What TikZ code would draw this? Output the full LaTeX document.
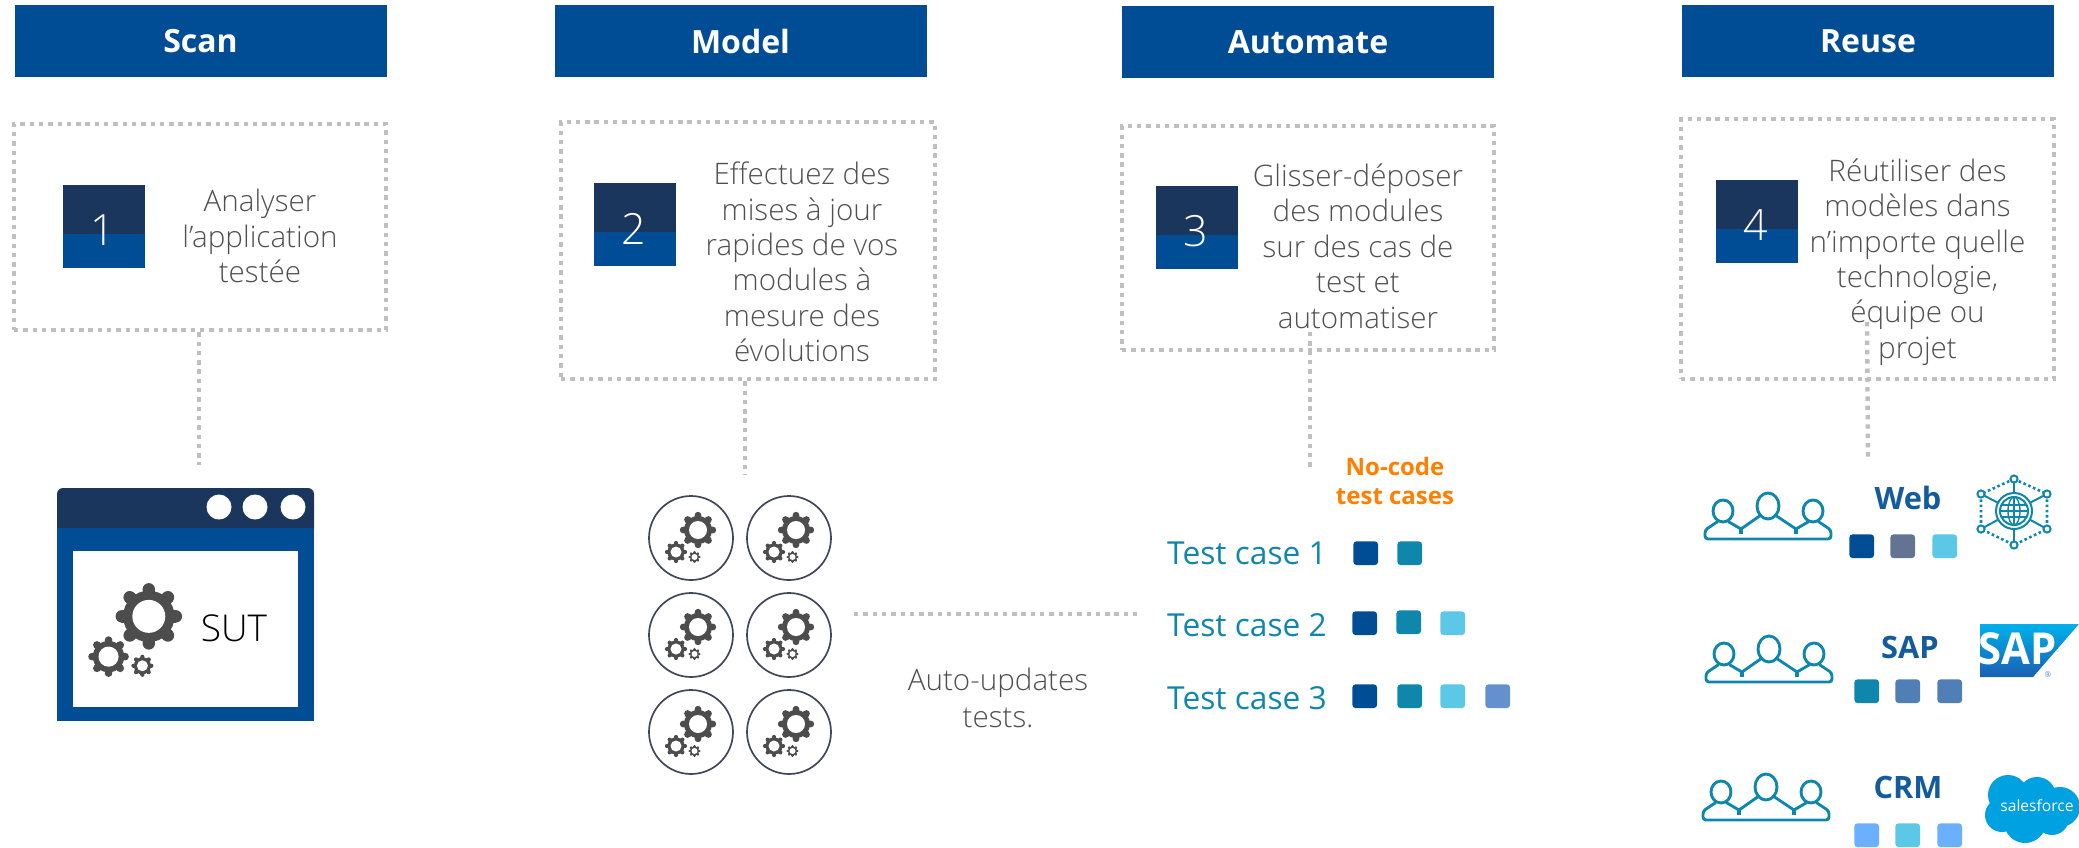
\documentclass[tikz,border=0pt]{standalone}
\usepackage{fontspec}
\setmainfont{Open Sans}
\newfontfamily\lightfont{Open Sans Light}
\definecolor{hblue}{HTML}{004D96}
\definecolor{hnavy}{HTML}{1B365D}
\definecolor{dotgrey}{HTML}{BFBFBF}
\definecolor{txtgrey}{HTML}{505050}
\definecolor{gearcol}{HTML}{4D4D4D}
\definecolor{ringcol}{HTML}{404758}
\definecolor{teal1}{HTML}{0F87AC}
\definecolor{sky}{HTML}{5AC8E6}
\definecolor{per}{HTML}{6490CD}
\definecolor{slate}{HTML}{637392}
\definecolor{steel}{HTML}{4F7FB5}
\definecolor{pale}{HTML}{6AB0FF}
\definecolor{orng}{HTML}{FF7F00}
\definecolor{sfblue}{HTML}{00A1E0}
\definecolor{saptop}{HTML}{00B1EB}
\definecolor{sapbot}{HTML}{1A5FB4}
\newcommand{\gearset}[3]{%
  \pic[scale={18*#3}] at ({#1+7*#3},{#2-8*#3}) {onegear};
  \pic[scale={11*#3}] at ({#1-15*#3},{#2+14*#3}) {onegear};
  \pic[scale={6*#3}] at ({#1+3.5*#3},{#2+19*#3}) {onegear};
}
\tikzset{
 x=0.5pt,y=-0.5pt,
 hdr/.style={fill=hblue,text=white,font=\fontsize{16}{18}\selectfont\bfseries,minimum width=186pt,minimum height=36pt,inner sep=0pt},
 dots/.style={draw=dotgrey,line width=2.2pt,dash pattern=on 2.2pt off 2.45pt},
 dotbox/.style={dots,inner sep=0pt},
 body/.style={text=txtgrey,align=center,inner sep=0pt,font=\fontsize{14.8}{17.7}\selectfont\lightfont},
 numtxt/.style={text=white,inner sep=0pt,font=\fontsize{21.5}{23}\selectfont\lightfont},
 tc/.style={text=teal1,inner sep=0pt,font=\fontsize{15.85}{18}\selectfont},
 plat/.style={text=hblue!92!white,inner sep=0pt,font=\fontsize{15.4}{18}\selectfont\bfseries},
 sq/.style={rounded corners=1.5pt,minimum width=12.3pt,minimum height=11.8pt,inner sep=0pt,anchor=north west},
 ring/.style={circle,draw=ringcol,line width=0.85pt,minimum size=42pt,inner sep=0pt},
 pics/onegear/.style={code={
   \foreach \a in {0,45,...,315}{
     \fill[gearcol,rotate=\a] (-0.19,-0.6) rectangle (0.19,-0.84);
     \fill[gearcol,rotate=\a] (0,-0.82) circle (0.19);
   }
   \fill[gearcol] (0,0) circle (0.78);
   \fill[white] (0,0) circle (0.5);
 }},
 pics/people/.style={code={
   \begin{scope}[teal1,line width=1.45pt,line join=round,line cap=round]
   \draw (-45,-6) ellipse [x radius=10,y radius=11];
   \draw (0,-11) ellipse [x radius=11,y radius=13];
   \draw (45,-6) ellipse [x radius=10,y radius=11];
   \draw[rounded corners=1.5pt] (-51,5) -- (-63,13) -- (-63,22) -- (63,22) -- (63,13) -- (51,5);
   \draw (-39,5) -- (-27,12) -- (-7,-2);
   \draw (7,-2) -- (28,12) -- (40,5);
   \draw[line cap=butt,line width=2pt] (-27,12) -- (-27,17);
   \draw[line cap=butt,line width=2pt] (28,12) -- (28,17);
   \end{scope}
 }},
}
\begin{document}
\begin{tikzpicture}
\useasboundingbox (0,0) rectangle (2079,847);
\clip (0,0) rectangle (2079,847);
% headers
\node[hdr] (h1) at (200.5,41) {Scan};
\node[hdr] (h2) at (740.5,41) {Model};
\node[hdr] (h3) at (1308,42) {Automate};
\node[hdr] (h4) at (1868,41) {Reuse};
% dotted boxes
\node[dotbox,minimum width=186pt,minimum height=103pt] (b1) at (200,227) {};
\node[dotbox,minimum width=187pt,minimum height=128.5pt] (b2) at (748,250.5) {};
\node[dotbox,minimum width=186pt,minimum height=112pt] (b3) at (1308,238) {};
\node[dotbox,minimum width=186.5pt,minimum height=130pt] (b4) at (1867.5,249) {};
% connectors
\coordinate (c1) at (199,465);
\coordinate (c2) at (745,475);
\coordinate (c3a) at (1310,332);
\coordinate (c3) at (1310,467);
\coordinate (c4a) at (1867,322);
\coordinate (c4) at (1868,457);
\draw[dots] (c1 |- b1.south) -- (c1);
\draw[dots] (c2 |- b2.south) -- (c2);
\draw[dots] (c3a) -- (c3);
\draw[dots] (c4a) -- (c4);
\coordinate (hs) at (854,614);
\coordinate (he) at (1140,614);
\draw[dots] (hs) -- (he);
% number squares
\foreach \n/\x/\y/\d in {1/63/185/1,2/594/183/2,3/1156/186/3,4/1716/180/4}{
  \fill[hnavy] (\x,\y) rectangle ++(82,50);
  \fill[hblue] (\x,\y+49) rectangle ++(82,34);
  \node[numtxt] (n\n) at (\x+40,\y+45.5) {\d};
}
% body texts
\node[body] (t1) at (260,236) {Analyser\\l’application\\testée};
\node[body] (t2) at (802,262) {Effectuez des\\mises à jour\\rapides de vos\\modules à\\mesure des\\évolutions};
\node[body] (t3) at (1358,246) {Glisser-déposer\\des modules\\sur des cas de\\test et\\automatiser};
\node[body] (t4) at (1917.5,262) {Réutiliser des\\modèles dans\\n’importe quelle\\technologie,\\équipe ou\\projet};
% SUT window
\fill[hnavy,rounded corners=3pt] (57,488) rectangle (314,535);
\fill[hblue] (57,528) rectangle (314,721);
\fill[white] (73,551) rectangle (298,707);
\foreach \x in {219,255,293} \fill[white] (\x,507) circle (12.5);
\gearset{136}{631}{1.83}
\node[inner sep=0pt,text=black,font=\fontsize{18.5}{20}\selectfont\lightfont] (sut) at (234,628) {SUT};
% gear circles
\foreach \n/\x/\y in {11/691/538,12/789/538,21/691/635,22/789/635,31/691/732,32/789/732}{
  \node[ring] (g\n) at (\x,\y) {};
  \gearset{\x}{\y}{1}
}
\node[body,font=\fontsize{14.8}{18.5}\selectfont\lightfont] (au) at (998,698) {Auto-updates\\tests.};
% test cases
\node[text=orng,inner sep=0pt,align=center,font=\fontsize{12}{14.5}\selectfont\bfseries] (nc) at (1395,481) {No-code\\test cases};
\node[tc] (tc1) at (1247,553) {Test case 1};
\node[tc] (tc2) at (1247,625) {Test case 2};
\node[tc] (tc3) at (1247,698) {Test case 3};
\node[sq,fill=hblue] (s11) at (1353,541) {};
\node[sq,fill=teal1] (s12) at (1397,541) {};
\node[sq,fill=hblue] (s21) at (1352,611) {};
\node[sq,fill=teal1] (s22) at (1396,610) {};
\node[sq,fill=sky] (s23) at (1440,611) {};
\node[sq,fill=hblue] (s31) at (1352,684) {};
\node[sq,fill=teal1] (s32) at (1397,684) {};
\node[sq,fill=sky] (s33) at (1440,684) {};
\node[sq,fill=per] (s34) at (1485,684) {};
% reuse column
\pic at (1768,517) {people};
\pic at (1769,660) {people};
\pic at (1766,798) {people};
\node[plat] (web) at (1908,498) {Web};
\node[plat] (sap) at (1910,647) {SAP};
\node[plat] (crm) at (1908,787) {CRM};
\node[sq,fill=hblue] (w1) at (1849,534) {};
\node[sq,fill=slate] (w2) at (1890,534) {};
\node[sq,fill=sky] (w3) at (1932,534) {};
\node[sq,fill=teal1] (p1) at (1854,679) {};
\node[sq,fill=steel] (p2) at (1895,679) {};
\node[sq,fill=steel] (p3) at (1937,679) {};
\node[sq,fill=pale] (m1) at (1854,823) {};
\node[sq,fill=sky] (m2) at (1895,823) {};
\node[sq,fill=pale] (m3) at (1937,823) {};
% network globe
\begin{scope}[shift={(2014,511)},teal1]
  \draw[line width=1.3pt,dash pattern=on 1.3pt off 1.3pt] (0,-32) -- (33,-17) -- (33,18) -- (0,34) -- (-33,18) -- (-33,-17) -- cycle;
  \foreach \a/\b in {0/-32,33/-17,33/18,0/34,-33/18,-33/-17}{
    \draw[line width=1pt] (0,0) -- (\a,\b);
    \draw[line width=1pt,fill=white] (\a,\b) circle (3.6);
  }
  \draw[line width=1pt,fill=white] (0,0) circle (18);
  \draw[line width=1pt] (0,0) circle (14);
  \draw[line width=0.7pt] (0,0) ellipse [x radius=6,y radius=14];
  \draw[line width=0.7pt] (-14,0) -- (14,0) (-12,-6) -- (12,-6) (-12,6) -- (12,6) (0,-14) -- (0,14);
\end{scope}
% SAP logo
\shade[top color=saptop,bottom color=sapbot] (1980,624) -- (2079,624) -- (2033,677) -- (1980,677) -- cycle;
\node[text=white,inner sep=0pt,font=\fontsize{22}{23}\selectfont\bfseries] (saplogo) at (2018,649) {\scalebox{0.95}[1]{SAP}};
\node[text=sapbot!70!white,inner sep=0pt,font=\fontsize{4}{5}\selectfont] (reg) at (2048,675) {®};
% salesforce cloud
\begin{scope}[shift={(1680,460)}]
  \fill[sfblue] (328,335) circle (20) (357,336) circle (19) (380,347) circle (20) (322,355) circle (17) (345,362) circle (21) (372,358) circle (17) (350,345) circle (20);
\end{scope}
\node[text=white,inner sep=0pt,font=\fontsize{7.8}{9}\selectfont] (sf) at (2037,806) {salesforce};
\end{tikzpicture}
\end{document}
